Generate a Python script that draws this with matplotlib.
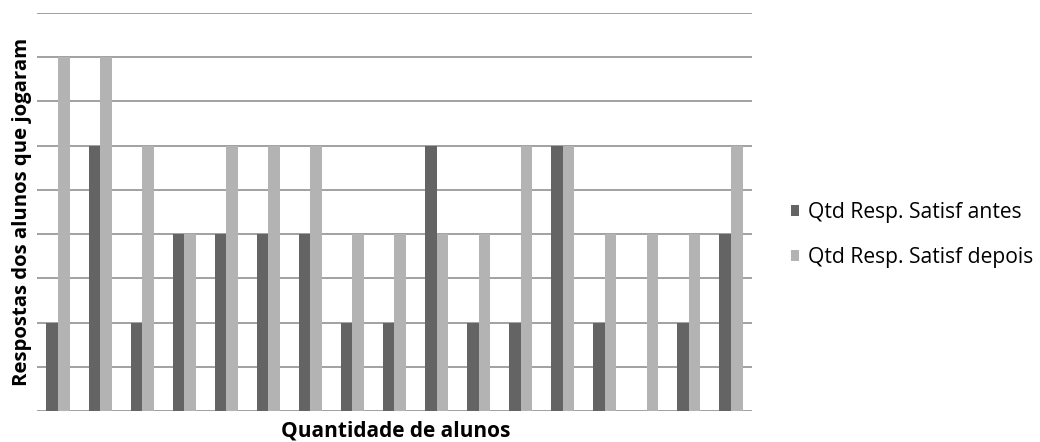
import matplotlib.pyplot as plt
import numpy as np

# Satisfaction answers per student, before and after playing
alunos = list(range(1, 18))
antes = [2, 6, 2, 4, 4, 4, 4, 2, 2, 6, 2, 2, 6, 2, 0, 2, 4]
depois = [8, 8, 6, 4, 6, 6, 6, 4, 4, 4, 4, 6, 6, 4, 4, 4, 6]

cor_antes = '#646464'
cor_depois = '#b3b3b3'

fig = plt.figure(figsize=(10.4, 4.42), dpi=100)
ax = fig.add_axes([37 / 1040, 1 - 411 / 442, 715 / 1040, 398 / 442])

x = np.arange(len(alunos))
w = 0.275
ax.bar(x - w / 2, antes, w, color=cor_antes, label='Qtd Resp. Satisf antes', zorder=2)
ax.bar(x + w / 2, depois, w, color=cor_depois, label='Qtd Resp. Satisf depois', zorder=2)

ax.set_xlim(-0.5, len(alunos) - 0.5)
ax.set_ylim(0, 9)
ax.set_yticks(range(0, 10))
ax.yaxis.grid(True, color='#878787', linewidth=1.1, zorder=0)
ax.set_axisbelow(True)
ax.tick_params(left=False, bottom=False, labelleft=False, labelbottom=False)
for s in ['top', 'right', 'left', 'bottom']:
    ax.spines[s].set_visible(False)

fig.text(22 / 1040, 1 - 212 / 442, 'Respostas dos alunos que jogaram', rotation=90,
         ha='center', va='center', fontsize=14.7, fontweight='bold', family='Open Sans')
fig.text(396 / 1040, 1 - 431 / 442, 'Quantidade de alunos',
         ha='center', va='center', fontsize=15, fontweight='bold', family='Open Sans')

ax.legend(loc='center left', bbox_to_anchor=(780 / 1040, 1 - 235 / 442),
          bbox_transform=fig.transFigure, frameon=False, borderpad=0,
          handlelength=0.4, handleheight=0.4, handletextpad=0.45,
          labelspacing=1.15, prop={'family': 'Open Sans', 'size': 15.2})

fig.savefig('out.png', dpi=100)
